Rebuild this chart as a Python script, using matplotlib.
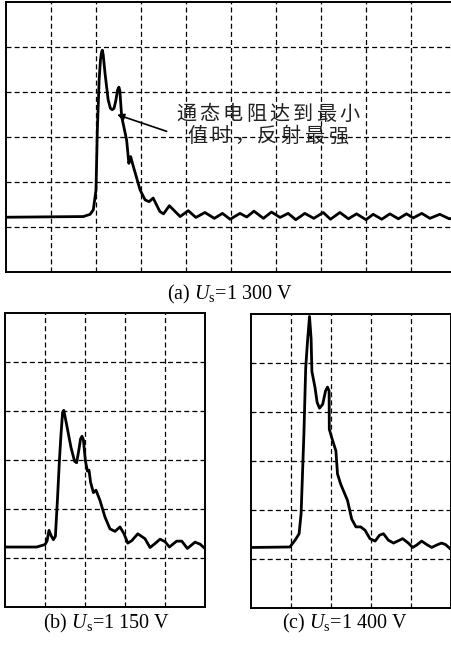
import matplotlib
matplotlib.use("Agg")
import matplotlib.pyplot as plt

plt.rcParams["font.family"] = ["Liberation Serif", "DejaVu Serif"]
plt.rcParams["mathtext.fontset"] = "custom"
plt.rcParams["mathtext.rm"] = "Liberation Serif"
plt.rcParams["mathtext.it"] = "Liberation Serif:italic"

# waveforms, in screen divisions (x right, y up)
a_x = [0.0, 1.72, 1.87, 1.94, 2.0, 2.03, 2.07, 2.10, 2.125, 2.14, 2.16, 2.20, 2.27,
       2.32, 2.36, 2.40, 2.44, 2.48, 2.51, 2.53, 2.57, 2.68, 2.73, 2.77, 2.83, 2.98,
       3.09, 3.18, 3.27, 3.42, 3.50, 3.63, 3.87, 4.05, 4.22, 4.42, 4.63, 4.81, 4.98,
       5.20, 5.35, 5.51, 5.72, 5.90, 6.09, 6.27, 6.44, 6.64, 6.84, 7.05, 7.21, 7.42,
       7.61, 7.79, 8.00, 8.16, 8.35, 8.53, 8.72, 8.90, 9.05, 9.24, 9.42, 9.64, 9.85,
       9.95]
a_y = [1.215, 1.23, 1.28, 1.38, 1.82, 3.16, 4.27, 4.71, 4.88, 4.92, 4.82, 4.41, 3.82,
       3.63, 3.60, 3.63, 3.80, 4.04, 4.10, 4.02, 3.45, 2.93, 2.41, 2.56, 2.34, 1.82,
       1.60, 1.56, 1.64, 1.34, 1.29, 1.47, 1.23, 1.36, 1.21, 1.32, 1.19, 1.30, 1.17,
       1.30, 1.22, 1.35, 1.19, 1.33, 1.21, 1.30, 1.16, 1.30, 1.19, 1.32, 1.17, 1.32,
       1.18, 1.29, 1.16, 1.28, 1.17, 1.29, 1.18, 1.29, 1.20, 1.30, 1.19, 1.28, 1.18,
       1.20]

b_x = [0.0, 0.79, 1.0, 1.05, 1.10, 1.16, 1.21, 1.26, 1.31, 1.36, 1.40, 1.44, 1.47,
       1.54, 1.65, 1.74, 1.79, 1.84, 1.89, 1.925, 1.96, 1.985, 2.01, 2.06, 2.10,
       2.14, 2.21, 2.275, 2.375, 2.5, 2.625, 2.75, 2.875, 2.975, 3.07, 3.17, 3.32,
       3.5, 3.625, 3.75, 3.875, 4.0, 4.11, 4.29, 4.42, 4.56, 4.75, 4.875, 5.0]
b_y = [1.23, 1.23, 1.28, 1.35, 1.57, 1.45, 1.38, 1.45, 2.18, 2.99, 3.53, 3.98, 4.02,
       3.73, 3.26, 2.98, 2.95, 3.18, 3.44, 3.49, 3.42, 3.20, 2.99, 2.78, 2.80,
       2.55, 2.34, 2.39, 2.18, 1.84, 1.60, 1.55, 1.64, 1.50, 1.31, 1.36, 1.50,
       1.40, 1.22, 1.30, 1.39, 1.34, 1.23, 1.35, 1.35, 1.20, 1.33, 1.29, 1.20]

c_x = [0.0, 0.98, 1.11, 1.21, 1.26, 1.33, 1.375, 1.42, 1.47, 1.51, 1.53, 1.61, 1.66,
       1.72, 1.80, 1.87, 1.92, 1.96, 1.965, 2.025, 2.13, 2.17, 2.25, 2.42, 2.525,
       2.63, 2.75, 2.86, 2.98, 3.11, 3.22, 3.32, 3.44, 3.57, 3.80, 3.94, 4.05, 4.15,
       4.275, 4.40, 4.525, 4.65, 4.77, 4.87, 4.98]
c_y = [1.24, 1.25, 1.39, 1.52, 1.93, 3.55, 4.90, 5.44, 5.95, 5.50, 4.83, 4.49, 4.20,
       4.08, 4.16, 4.43, 4.51, 4.43, 3.65, 3.48, 3.21, 2.74, 2.53, 2.20, 1.82,
       1.66, 1.66, 1.59, 1.42, 1.37, 1.49, 1.52, 1.39, 1.33, 1.42, 1.33, 1.24, 1.29,
       1.37, 1.30, 1.24, 1.29, 1.33, 1.30, 1.22]

captions = ["(a) $U_\\mathrm{s}$=1 300 V", "(b) $U_\\mathrm{s}$=1 150 V",
            "(c) $U_\\mathrm{s}$=1 400 V"]
note_lines = ["通态电阻达到最小", "值时，反射最强"]

W, H = 451, 645
fig = plt.figure(figsize=(W / 100, H / 100), dpi=100)


def make_axes(left, top, width, height, nx, ny):
    ax = fig.add_axes([left / W, 1 - (top + height) / H, width / W, height / H])
    ax.set_xlim(0, nx)
    ax.set_ylim(0, ny)
    ax.set_xticks(range(1, nx))
    ax.set_yticks(range(1, ny))
    ax.tick_params(length=0, labelbottom=False, labelleft=False)
    ax.grid(True, color="black", linestyle=(0, (4, 2.5)), linewidth=0.9)
    for sp in ax.spines.values():
        sp.set_linewidth(1.4)
    return ax


ax_a = make_axes(6, 1.5, 450, 270.5, 10, 6)
ax_a.plot(a_x, a_y, color="black", linewidth=2.0, solid_joinstyle="round")
ax_a.annotate("", xy=(2.47, 3.49), xytext=(3.57, 3.12),
              arrowprops=dict(arrowstyle="-|>", color="black", lw=1.2,
                              mutation_scale=10, shrinkA=0, shrinkB=0))

# the note is set with wide letter spacing, so place it glyph by glyph
pitch = 0.52
for line, (cx, cy) in zip(note_lines, [(5.82, 3.49), (5.81, 3.0)]):
    start = cx - pitch * (len(line) - 1) / 2
    for i, ch in enumerate(line):
        ax_a.text(start + i * pitch, cy, ch, ha="center", va="center",
                  fontsize=14.5, color="#222222",
                  family=["Noto Sans CJK SC", "DejaVu Sans"])

ax_b = make_axes(5, 313.3, 200, 294, 5, 6)
ax_b.plot(b_x, b_y, color="black", linewidth=2.0, solid_joinstyle="round")

ax_c = make_axes(250.7, 314, 200, 294.3, 5, 6)
ax_c.plot(c_x, c_y, color="black", linewidth=2.0, solid_joinstyle="round")

for (cx, cy), txt in zip([(230, 294), (106, 623), (345, 623)], captions):
    fig.text(cx / W, 1 - cy / H, txt, ha="center", va="center", fontsize=14.5)

fig.savefig("out.png", dpi=100)
